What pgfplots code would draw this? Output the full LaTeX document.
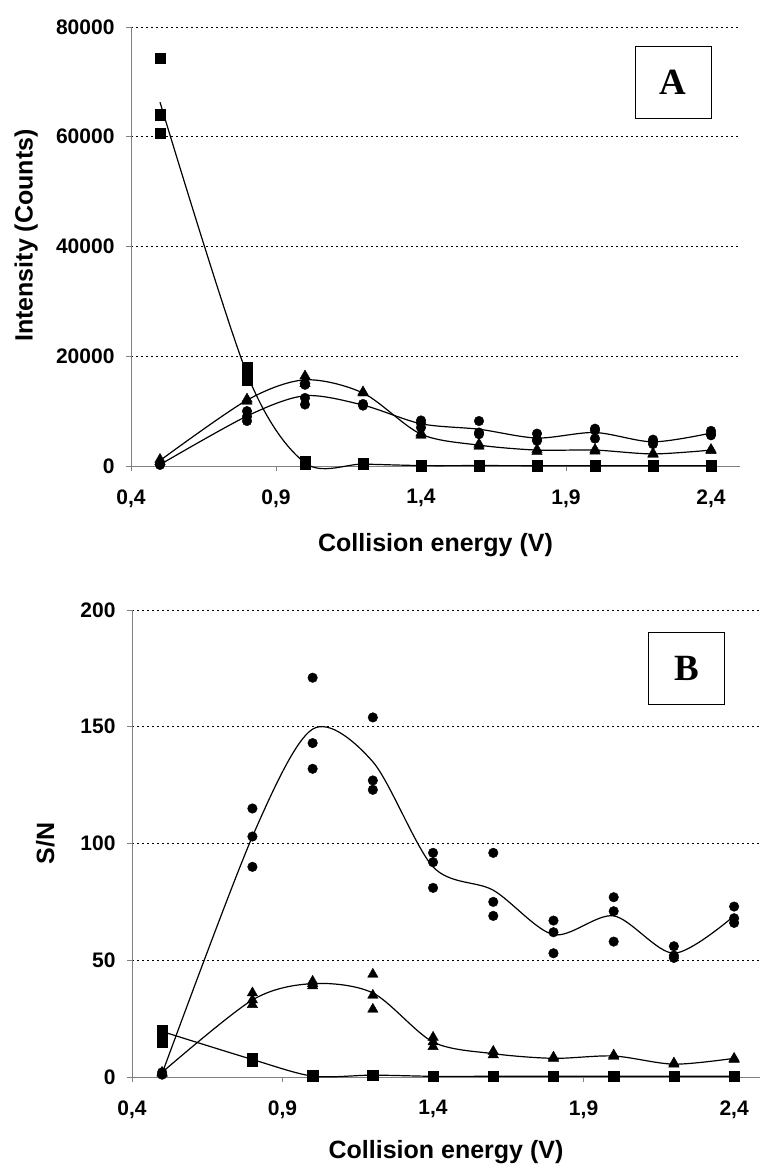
\documentclass[border=0pt]{standalone}
\usepackage{pgfplots}
\pgfplotsset{compat=1.18}
\usepackage{fontspec}
\setmainfont{Liberation Sans}
\newfontfamily\serifbf{Liberation Serif}
\begin{document}
\begin{tikzpicture}[x=1pt,y=1pt]
\useasboundingbox (0,0) rectangle (762,-1169);
\pgfplotsset{
 common/.style={
  scale only axis,
  axis x line=bottom, axis y line=left,
  axis line style={-, gray, line width=0.8pt},
  tick align=outside, major tick length=5pt,
  tick style={gray, line width=0.8pt},
  ymajorgrids, major grid style={black, line width=0.7pt, dash pattern=on 1.8pt off 3.2pt},
  xtick={0.4,0.9,1.4,1.9,2.4},
  xticklabels={{0,4},{0,9},{1,4},{1,9},{2,4}},
  ticklabel style={font=\fontsize{21}{24}\selectfont\bfseries},
  xticklabel style={yshift=-15pt},
  yticklabel style={xshift=-8pt},
  /pgf/number format/assume math mode=true,
  /pgf/number format/1000 sep={},
  scaled y ticks=false,
  label style={font=\fontsize{25}{30}\selectfont\bfseries},
  clip=false,
 },
 rep/.style={only marks, black, mark options={solid, fill=black}},
 fit/.style={smooth, black, line width=1.2pt, no marks},
}
% ---------------- Panel A ----------------
\begin{axis}[common, at={(131pt,-466pt)}, anchor=south west,
  width=609pt, height=439pt,
  xmin=0.4, xmax=2.5, ymin=0, ymax=80000,
  ytick={0,20000,40000,60000,80000},
  xlabel={Collision energy (V)},
  xlabel style={at={(axis description cs:0.5,-0.18)}, anchor=center},
  ylabel={Intensity (Counts)},
  ylabel style={at={(axis description cs:-0.172,0.525)}, anchor=center},
]
\addplot[rep, mark=square*, mark size=5.2pt] coordinates {(0.5,74300)(0.5,64000)(0.5,60700)(0.8,18000)(0.8,16800)(0.8,15600)(1.0,800)(1.0,500)(1.0,400)(1.2,400)(1.2,300)(1.4,100)(1.4,50)(1.6,80)(1.8,60)(2.0,60)(2.2,50)(2.4,50)};
\addplot[fit] coordinates {(0.5,66300)(0.8,16800)(1.0,570)(1.2,350)(1.4,80)(1.6,80)(1.8,60)(2.0,60)(2.2,50)(2.4,50)};
\addplot[rep, mark=triangle*, mark size=6pt] coordinates {(0.5,1200)(0.5,800)(0.8,12200)(0.8,11800)(1.0,16400)(1.0,15600)(1.0,15000)(1.2,13300)(1.2,13500)(1.4,6000)(1.4,5600)(1.6,4000)(1.6,3600)(1.8,3000)(1.8,2600)(2.0,3000)(2.0,2700)(2.2,2300)(2.2,2100)(2.4,3000)(2.4,2800)};
\addplot[fit] coordinates {(0.5,1000)(0.8,12000)(1.0,15700)(1.2,13300)(1.4,5800)(1.6,3800)(1.8,2900)(2.0,2900)(2.2,2200)(2.4,2900)};
\addplot[rep, mark=*, mark size=4.8pt] coordinates {(0.5,300)(0.5,200)(0.8,10000)(0.8,9000)(0.8,8200)(1.0,14800)(1.0,12400)(1.0,11200)(1.2,11000)(1.2,11300)(1.4,8300)(1.4,7000)(1.4,7800)(1.6,8200)(1.6,6100)(1.6,5800)(1.8,5900)(1.8,4600)(1.8,4800)(2.0,6800)(2.0,5000)(2.0,6500)(2.2,4800)(2.2,4500)(2.2,4000)(2.4,6400)(2.4,5900)(2.4,5600)};
\addplot[fit] coordinates {(0.5,250)(0.8,9100)(1.0,12800)(1.2,11100)(1.4,7700)(1.6,6700)(1.8,5100)(2.0,6100)(2.2,4400)(2.4,6000)};
\node[draw, line width=1pt, minimum width=76pt, minimum height=72pt, font=\serifbf\fontsize{37}{40}\selectfont\bfseries] at (rel axis cs:0.89,0.873) {A};
\end{axis}
% ---------------- Panel B ----------------
\begin{axis}[common, at={(132pt,-1077pt)}, anchor=south west,
  width=628pt, height=467pt,
  xmin=0.4, xmax=2.486, ymin=0, ymax=200,
  ytick={0,50,100,150,200},
  xlabel={Collision energy (V)},
  xlabel style={at={(axis description cs:0.5,-0.161)}, anchor=center},
  ylabel={S/N},
  ylabel style={at={(axis description cs:-0.138,0.5)}, anchor=center},
]
\addplot[rep, mark=square*, mark size=5.2pt] coordinates {(0.5,20)(0.5,18)(0.5,15)(0.8,8)(0.8,7)(0.8,7.5)(1.0,0.5)(1.0,0.3)(1.2,0.8)(1.4,0.3)(1.6,0.3)(1.8,0.3)(2.0,0.3)(2.2,0.3)(2.4,0.3)};
\addplot[fit] coordinates {(0.5,19.5)(0.8,7.5)(1.0,0.4)(1.2,0.8)(1.4,0.3)(1.6,0.3)(1.8,0.3)(2.0,0.3)(2.2,0.3)(2.4,0.3)};
\addplot[rep, mark=triangle*, mark size=6pt] coordinates {(0.5,2)(0.5,1.5)(0.8,36)(0.8,31)(0.8,33)(1.0,41)(1.0,39)(1.0,40)(1.2,44)(1.2,35)(1.2,29)(1.4,17)(1.4,13)(1.4,15)(1.6,11)(1.6,9.5)(1.8,8.5)(1.8,8)(2.0,9.4)(2.0,8.8)(2.2,6)(2.2,5.5)(2.4,8)(2.4,7.5)};
\addplot[fit] coordinates {(0.5,2)(0.8,33)(1.0,40)(1.2,36)(1.4,15)(1.6,10)(1.8,8)(2.0,9)(2.2,5.5)(2.4,8)};
\addplot[rep, mark=*, mark size=4.8pt] coordinates {(0.5,2)(0.5,1)(0.8,115)(0.8,103)(0.8,90)(1.0,171)(1.0,143)(1.0,132)(1.2,154)(1.2,127)(1.2,123)(1.4,96)(1.4,92)(1.4,81)(1.6,96)(1.6,75)(1.6,69)(1.8,67)(1.8,62)(1.8,53)(2.0,77)(2.0,71)(2.0,58)(2.2,56)(2.2,51)(2.2,52)(2.4,73)(2.4,68)(2.4,66)};
\addplot[fit] coordinates {(0.5,1.5)(0.8,103)(1.0,149)(1.2,135)(1.4,90)(1.6,80)(1.8,61)(2.0,69)(2.2,53)(2.4,69)};
\node[draw, line width=1pt, minimum width=76pt, minimum height=72pt, font=\serifbf\fontsize{37}{40}\selectfont\bfseries] at (rel axis cs:0.883,0.874) {B};
\end{axis}
\end{tikzpicture}
\end{document}
